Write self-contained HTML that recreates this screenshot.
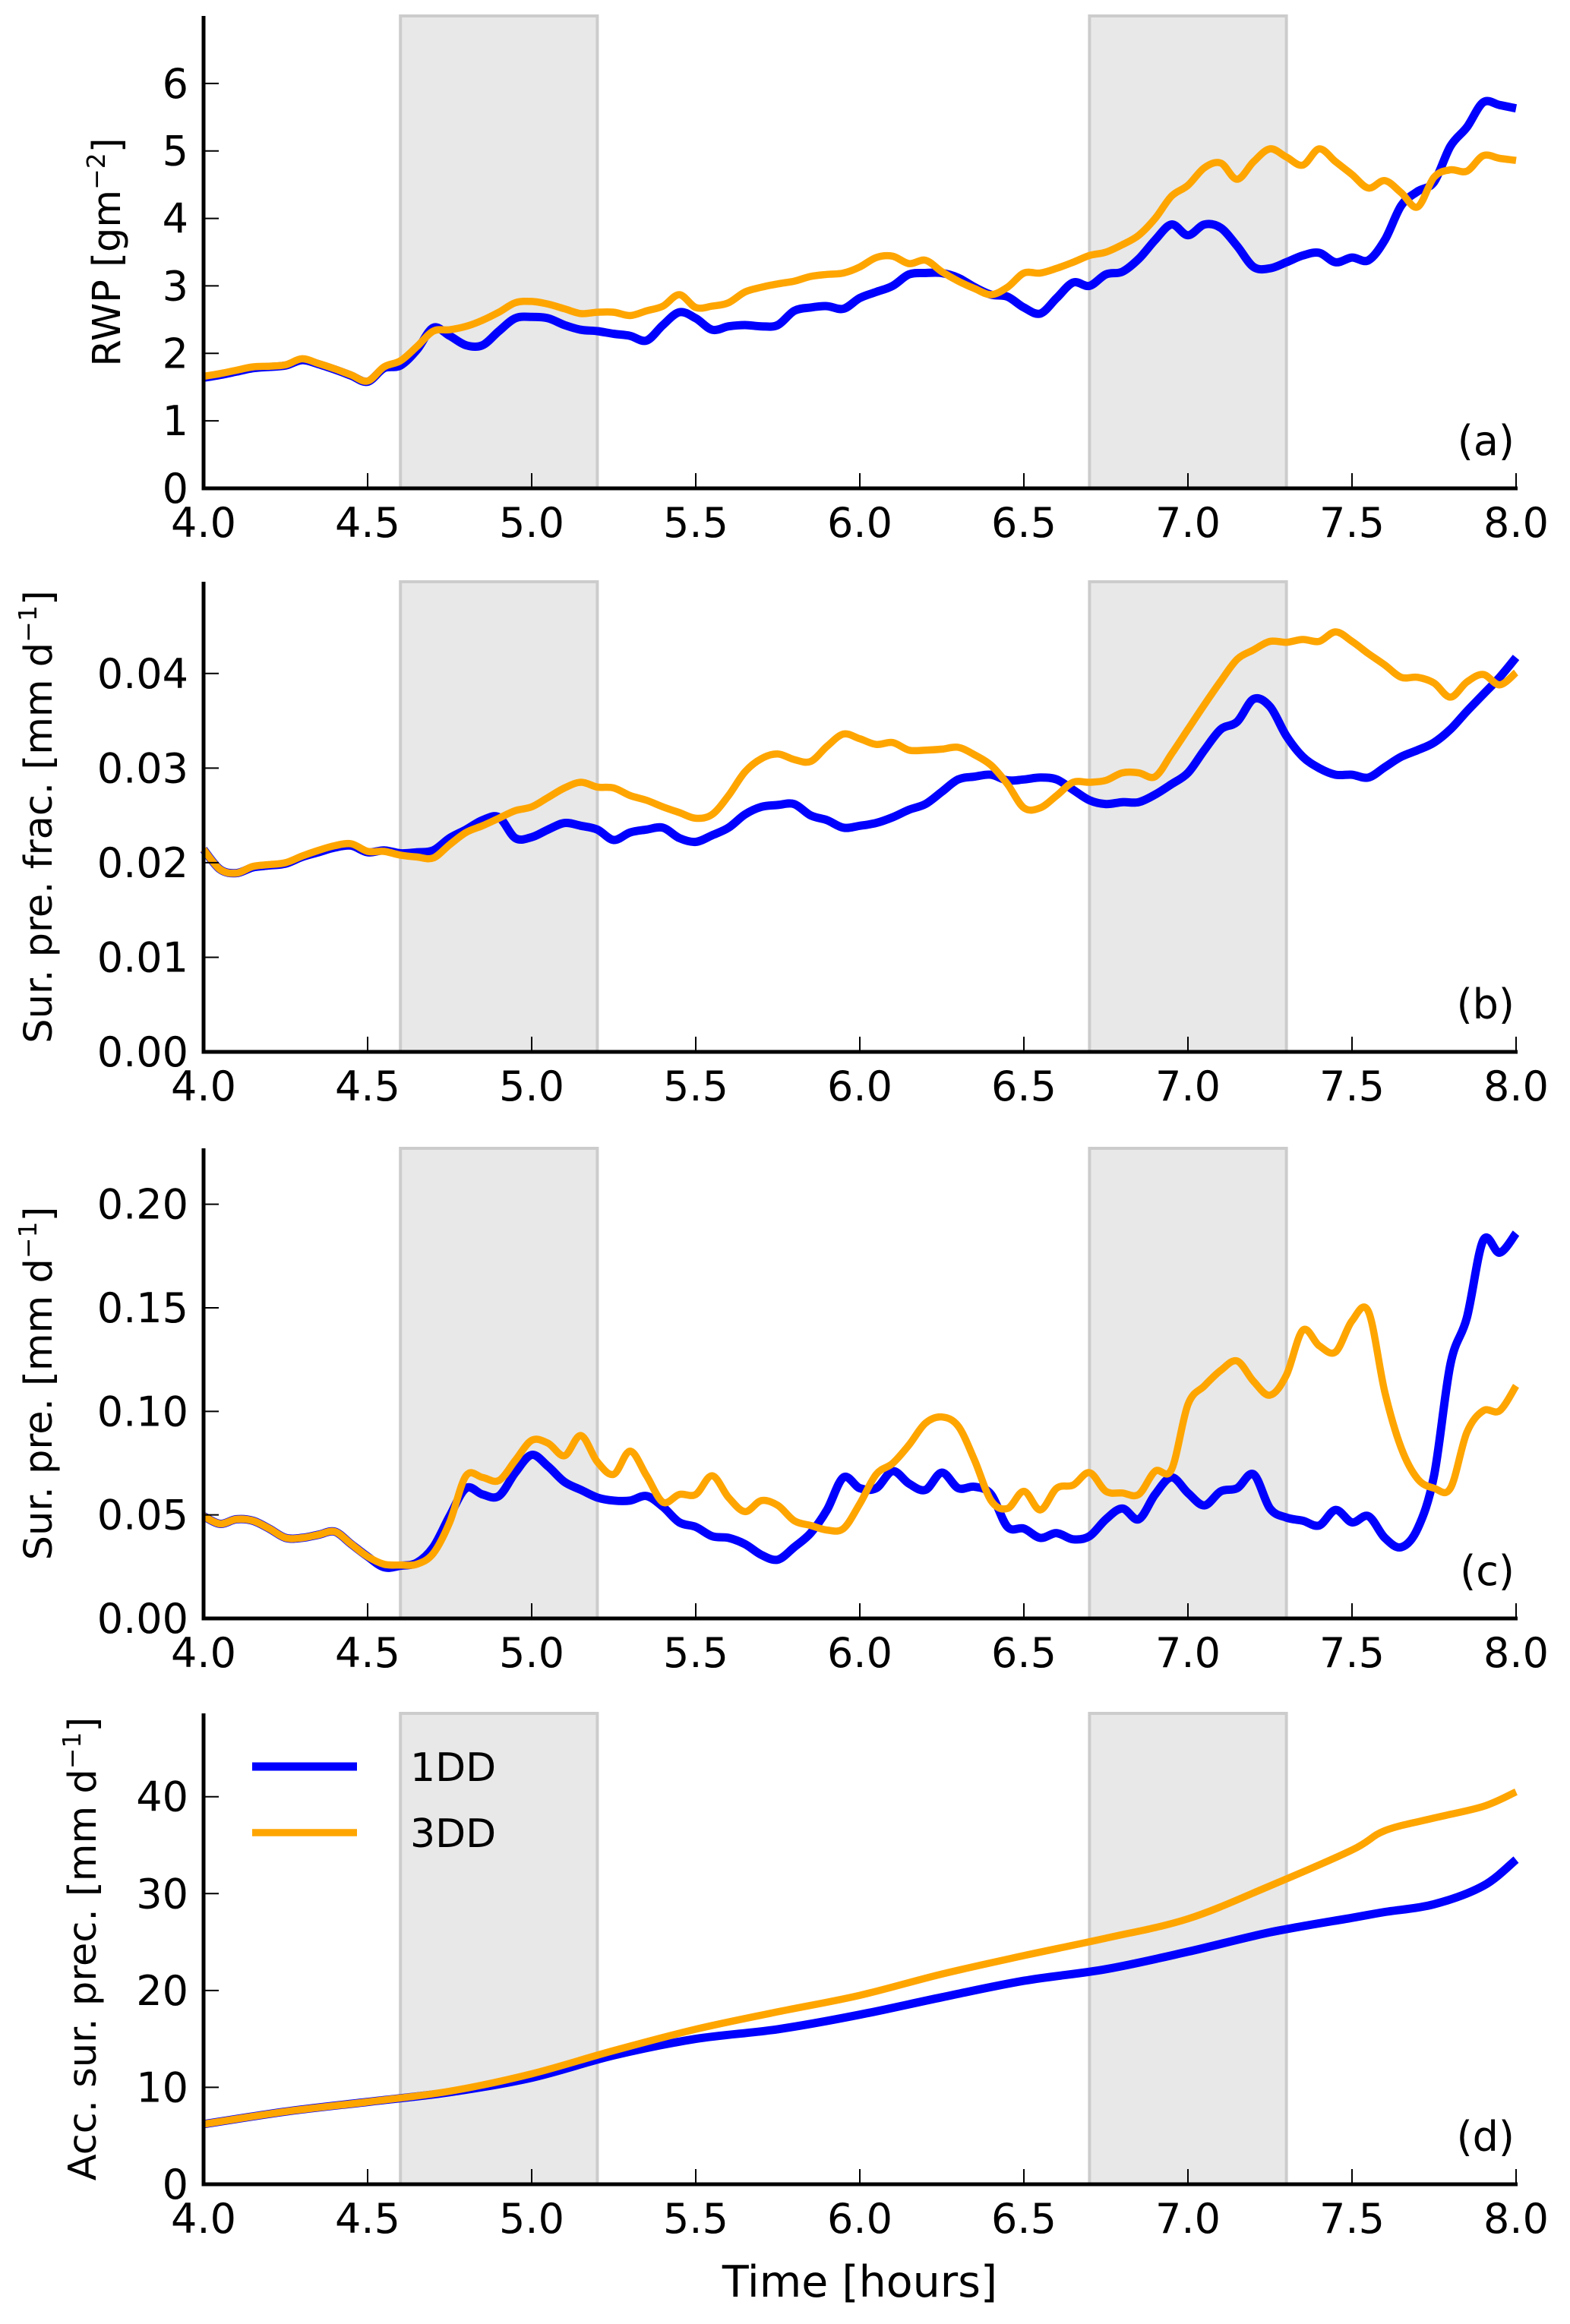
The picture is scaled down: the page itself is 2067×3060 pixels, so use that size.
<!DOCTYPE html>
<html><head><meta charset="utf-8"><style>
html,body{margin:0;padding:0;background:#fff;}
svg{display:block;font-family:"DejaVu Sans","Liberation Sans",sans-serif;}
</style></head><body>
<svg id="fig" width="2067" height="3060" viewBox="0 0 2067 3060" xmlns="http://www.w3.org/2000/svg"></svg>
<script>
const xTicks = [4.0,4.5,5.0,5.5,6.0,6.5,7.0,7.5,8.0];
const xTickLabels = ["4.0","4.5","5.0","5.5","6.0","6.5","7.0","7.5","8.0"];
const spans = [[4.6,5.2],[6.7,7.3]];
const t05 = [4.00,4.05,4.10,4.15,4.20,4.25,4.30,4.35,4.40,4.45,4.50,4.55,4.60,4.65,4.70,4.75,4.80,4.85,4.90,4.95,5.00,5.05,5.10,5.15,5.20,5.25,5.30,5.35,5.40,5.45,5.50,5.55,5.60,5.65,5.70,5.75,5.80,5.85,5.90,5.95,6.00,6.05,6.10,6.15,6.20,6.25,6.30,6.35,6.40,6.45,6.50,6.55,6.60,6.65,6.70,6.75,6.80,6.85,6.90,6.95,7.00,7.05,7.10,7.15,7.20,7.25,7.30,7.35,7.40,7.45,7.50,7.55,7.60,7.65,7.70,7.75,7.80,7.85,7.90,7.95,8.00];
const rwp1DD = [1.64,1.68,1.73,1.78,1.80,1.82,1.90,1.84,1.76,1.67,1.58,1.78,1.82,2.05,2.38,2.26,2.12,2.12,2.33,2.52,2.54,2.52,2.42,2.35,2.33,2.29,2.26,2.19,2.42,2.61,2.52,2.35,2.40,2.42,2.40,2.42,2.63,2.68,2.70,2.66,2.82,2.91,3.00,3.17,3.19,3.19,3.12,2.98,2.87,2.84,2.68,2.59,2.82,3.05,3.00,3.17,3.21,3.40,3.68,3.91,3.75,3.91,3.86,3.59,3.28,3.26,3.35,3.45,3.49,3.35,3.42,3.38,3.68,4.19,4.40,4.54,5.07,5.35,5.72,5.68,5.63];
const rwp3DD = [1.66,1.70,1.75,1.80,1.81,1.83,1.92,1.85,1.77,1.68,1.59,1.80,1.89,2.10,2.33,2.35,2.40,2.49,2.61,2.75,2.77,2.73,2.66,2.59,2.61,2.61,2.56,2.63,2.70,2.87,2.68,2.70,2.75,2.91,2.98,3.03,3.07,3.14,3.17,3.19,3.28,3.42,3.44,3.33,3.38,3.21,3.07,2.96,2.87,2.98,3.19,3.19,3.26,3.35,3.45,3.50,3.61,3.75,4.00,4.33,4.49,4.75,4.82,4.58,4.84,5.03,4.91,4.79,5.03,4.84,4.65,4.45,4.56,4.38,4.17,4.61,4.72,4.70,4.93,4.89,4.86];
const frac1DD = [0.0214,0.0193,0.0189,0.0195,0.0197,0.0199,0.0206,0.0211,0.0216,0.0218,0.0211,0.0213,0.0210,0.0211,0.0213,0.0226,0.0235,0.0245,0.0248,0.0226,0.0227,0.0235,0.0242,0.0239,0.0235,0.0224,0.0232,0.0235,0.0237,0.0226,0.0222,0.0229,0.0237,0.0251,0.0259,0.0261,0.0262,0.0250,0.0245,0.0237,0.0239,0.0242,0.0248,0.0256,0.0262,0.0275,0.0288,0.0291,0.0293,0.0287,0.0288,0.0290,0.0288,0.0277,0.0266,0.0262,0.0264,0.0264,0.0272,0.0283,0.0295,0.0319,0.0341,0.0349,0.0373,0.0365,0.0334,0.0312,0.0300,0.0293,0.0293,0.0290,0.0301,0.0312,0.0319,0.0327,0.0341,0.0360,0.0378,0.0396,0.0417];
const frac3DD = [0.0214,0.0193,0.0189,0.0196,0.0198,0.0200,0.0207,0.0213,0.0218,0.0220,0.0212,0.0212,0.0208,0.0206,0.0205,0.0219,0.0232,0.0239,0.0247,0.0255,0.0259,0.0269,0.0279,0.0285,0.0280,0.0279,0.0271,0.0266,0.0259,0.0253,0.0247,0.0251,0.0271,0.0296,0.0310,0.0315,0.0309,0.0307,0.0323,0.0336,0.0331,0.0325,0.0327,0.0319,0.0319,0.0320,0.0322,0.0314,0.0303,0.0283,0.0258,0.0258,0.0271,0.0285,0.0285,0.0287,0.0295,0.0295,0.0291,0.0315,0.0341,0.0367,0.0392,0.0415,0.0425,0.0434,0.0433,0.0436,0.0434,0.0444,0.0434,0.0421,0.0409,0.0396,0.0396,0.0390,0.0375,0.0391,0.0399,0.0388,0.0401];
const pre1DD = [0.0494,0.0457,0.0479,0.0472,0.0434,0.0389,0.0389,0.0404,0.0419,0.0359,0.0299,0.0247,0.0254,0.0269,0.0344,0.0494,0.0629,0.0599,0.0591,0.0704,0.0790,0.0734,0.0659,0.0621,0.0584,0.0569,0.0569,0.0591,0.0539,0.0464,0.0442,0.0397,0.0389,0.0359,0.0307,0.0284,0.0344,0.0412,0.0524,0.0681,0.0629,0.0629,0.0711,0.0651,0.0621,0.0704,0.0629,0.0636,0.0599,0.0442,0.0434,0.0389,0.0412,0.0382,0.0397,0.0479,0.0531,0.0479,0.0599,0.0681,0.0606,0.0546,0.0614,0.0629,0.0696,0.0531,0.0487,0.0472,0.0449,0.0524,0.0464,0.0494,0.0389,0.0344,0.0434,0.0689,0.1228,0.1452,0.1826,0.1766,0.1860];
const pre3DD = [0.0494,0.0457,0.0479,0.0472,0.0434,0.0389,0.0389,0.0404,0.0419,0.0359,0.0299,0.0262,0.0258,0.0262,0.0314,0.0464,0.0689,0.0681,0.0666,0.0763,0.0860,0.0846,0.0786,0.0883,0.0756,0.0696,0.0808,0.0689,0.0561,0.0599,0.0599,0.0689,0.0584,0.0516,0.0569,0.0546,0.0472,0.0449,0.0427,0.0434,0.0554,0.0696,0.0749,0.0838,0.0943,0.0973,0.0928,0.0763,0.0569,0.0531,0.0614,0.0524,0.0629,0.0644,0.0704,0.0614,0.0606,0.0599,0.0711,0.0719,0.1033,0.1123,0.1198,0.1243,0.1145,0.1078,0.1175,0.1392,0.1317,0.1287,0.1437,0.1482,0.1093,0.0823,0.0674,0.0629,0.0629,0.0898,0.1003,0.1003,0.1123];
const t25 = [4.0,4.25,4.5,4.75,5.0,5.25,5.5,5.75,6.0,6.25,6.5,6.75,7.0,7.25,7.5,7.6,7.75,7.9,8.0];
const acc1DD = [6.2,7.5,8.5,9.5,11.0,13.3,15.0,16.0,17.5,19.3,21.0,22.2,24.0,26.0,27.5,28.1,28.9,30.8,33.5];
const acc3DD = [6.2,7.5,8.5,9.6,11.4,13.8,16.0,17.8,19.5,21.7,23.6,25.4,27.4,30.8,34.5,36.5,37.8,39.0,40.5];
const yTicksA = [0,1,2,3,4,5,6], yLabA = ["0","1","2","3","4","5","6"];
const yTicksB = [0,0.01,0.02,0.03,0.04], yLabB = ["0.00","0.01","0.02","0.03","0.04"];
const yTicksC = [0,0.05,0.10,0.15,0.20], yLabC = ["0.00","0.05","0.10","0.15","0.20"];
const yTicksD = [0,10,20,30,40], yLabD = ["0","10","20","30","40"];

const NS="http://www.w3.org/2000/svg";
const svg=document.getElementById('fig');
function mk(tag,attrs,parent){const e=document.createElementNS(NS,tag);for(const k in attrs)e.setAttribute(k,attrs[k]);(parent||svg).appendChild(e);return e;}
const X0=268,X1=1996;
function xs(t){return X0+(t-4)/4*(X1-X0);}
function smoothPath(P){
  let d='M'+P[0][0].toFixed(1)+','+P[0][1].toFixed(1);
  for(let i=0;i<P.length-1;i++){
    const p0=P[Math.max(0,i-1)],p1=P[i],p2=P[i+1],p3=P[Math.min(P.length-1,i+2)];
    const c1x=p1[0]+(p2[0]-p0[0])/6,c1y=p1[1]+(p2[1]-p0[1])/6;
    const c2x=p2[0]-(p3[0]-p1[0])/6,c2y=p2[1]-(p3[1]-p1[1])/6;
    d+=' C'+c1x.toFixed(1)+','+c1y.toFixed(1)+' '+c2x.toFixed(1)+','+c2y.toFixed(1)+' '+p2[0].toFixed(1)+','+p2[1].toFixed(1);
  }
  return d;
}

const panels=[
 {key:'a',top:21,bot:643,ymax:7,yt:yTicksA,yl:yLabA,label:'RWP [gm',sup:'−2',suf:']',lx:140,s1:rwp1DD,s2:rwp3DD,t:t05},
 {key:'b',top:766,bot:1385,ymax:0.0497,yt:yTicksB,yl:yLabB,label:'Sur. pre. frac. [mm d',sup:'−1',suf:']',lx:50,s1:frac1DD,s2:frac3DD,t:t05},
 {key:'c',top:1512,bot:2131,ymax:0.227,yt:yTicksC,yl:yLabC,label:'Sur. pre. [mm d',sup:'−1',suf:']',lx:50,s1:pre1DD,s2:pre3DD,t:t05},
 {key:'d',top:2256,bot:2876,ymax:48.6,yt:yTicksD,yl:yLabD,label:'Acc. sur. prec. [mm d',sup:'−1',suf:']',lx:108,s1:acc1DD,s2:acc3DD,t:t25}
];

panels.forEach(p=>{
  const g=mk('g',{});
  
  
  const ys=v=>p.bot-(v/p.ymax)*(p.bot-p.top);
  spans.forEach((s,i)=>{
    const r=mk('rect',{x:xs(s[0]),y:p.top,width:xs(s[1])-xs(s[0]),height:p.bot-p.top,fill:'#e8e8e8',stroke:'#cccccc','stroke-width':4},g);
    
    
  });
  function line(arr,col,w,name){
    const P=p.t.map((t,i)=>[xs(t),ys(arr[i])]);
    const pl=mk('path',{d:smoothPath(P),fill:'none',stroke:col,'stroke-width':w,'stroke-linejoin':'round','stroke-linecap':'butt'},g);
    
    
  }
  line(p.s1,'#0000ff',11,'line-1dd');
  line(p.s2,'#ffa500',9.5,'line-3dd');
  p.yt.forEach((v,i)=>{
    mk('line',{x1:X0,x2:X0+20,y1:ys(v),y2:ys(v),stroke:'#000','stroke-width':2},g);
    const tx=mk('text',{x:248,y:ys(v)+19,'font-size':54,'text-anchor':'end',fill:'#000'},g);
    tx.textContent=p.yl[i];
    
    
  });
  xTicks.forEach((v,i)=>{
    mk('line',{x1:xs(v),x2:xs(v),y1:p.bot,y2:p.bot-20,stroke:'#000','stroke-width':2},g);
    const tx=mk('text',{x:xs(v),y:p.bot+64,'font-size':54,'text-anchor':'middle',fill:'#000'},g);
    tx.textContent=xTickLabels[i];
    
    
  });
  mk('line',{x1:X0,x2:X0,y1:p.top,y2:p.bot+2.5,stroke:'#000','stroke-width':5},g);
  mk('line',{x1:X0-2.5,x2:X1+2,y1:p.bot,y2:p.bot,stroke:'#000','stroke-width':5},g);
  const pl=mk('text',{x:1994,y:p.bot-44,'font-size':54,'text-anchor':'end',fill:'#000'},g);
  pl.textContent='('+p.key+')';
  
  
  const cy=(p.top+p.bot)/2;
  const yl=mk('text',{x:0,y:0,'font-size':51,'text-anchor':'middle',fill:'#000',transform:'translate('+(p.lx+18)+','+cy+') rotate(-90)'},g);
  
  
  const t1=mk('tspan',{},yl);t1.textContent=p.label;
  const t2=mk('tspan',{dy:-20,'font-size':33},yl);t2.textContent=p.sup;
  const t3=mk('tspan',{dy:20},yl);t3.textContent=p.suf;
});

const lg=mk('g',{});


[['1DD','#0000ff',2326,11],['3DD','#ffa500',2413,9.5]].forEach(e=>{
  const l=mk('line',{x1:332,x2:470,y1:e[2],y2:e[2],stroke:e[1],'stroke-width':e[3]},lg);
  
  
  const t=mk('text',{x:540,y:e[2]+19,'font-size':52,fill:'#000'},lg);
  t.textContent=e[0];
  
  
});
const xt=mk('text',{x:1132,y:3024,'font-size':57,'text-anchor':'middle',fill:'#000'});
xt.textContent='Time [hours]';


</script>
</body></html>
